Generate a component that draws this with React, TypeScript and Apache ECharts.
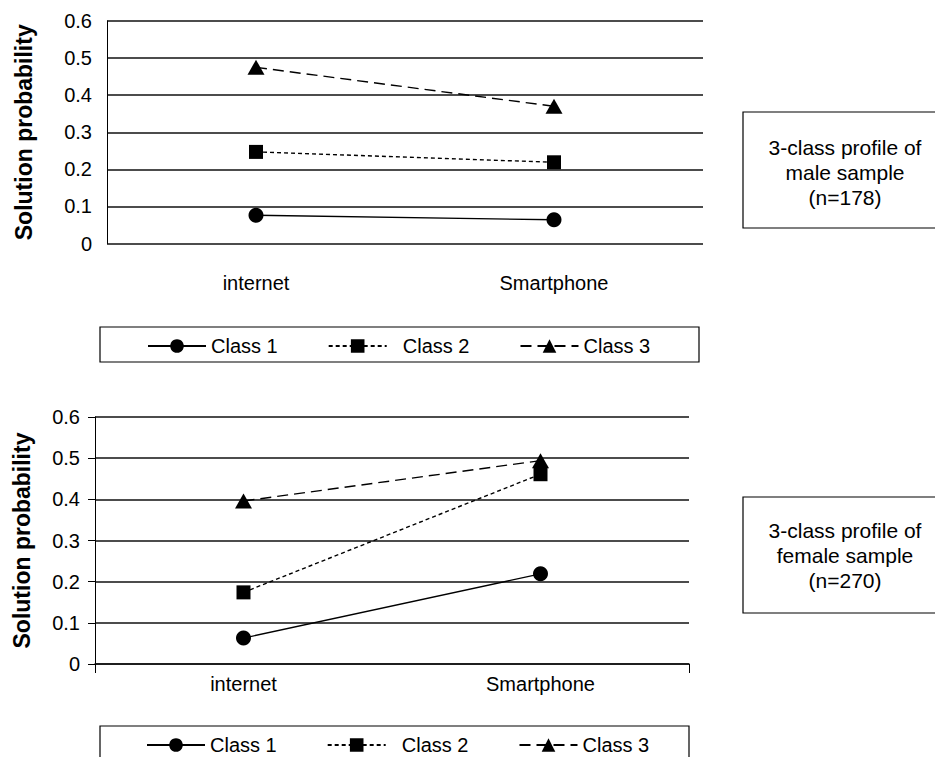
import React, { useEffect, useRef } from "react";
import * as echarts from "echarts";

const categories = ["internet", "Smartphone"];
const seriesNames = ["Class 1", "Class 2", "Class 3"];

// Male sample (n=178)
const maleClass1 = [0.076, 0.064];
const maleClass2 = [0.247, 0.219];
const maleClass3 = [0.475, 0.37];

// Female sample (n=270)
const femaleClass1 = [0.063, 0.219];
const femaleClass2 = [0.174, 0.461];
const femaleClass3 = [0.396, 0.494];

const maleBoxText = "3-class profile of\nmale sample\n(n=178)";
const femaleBoxText = "3-class profile of\nfemale sample\n(n=270)";

const FONT = "'Liberation Sans', Arial, Helvetica, sans-serif";

const styles = [
  { symbol: "circle", symbolSize: 15, dash: "solid" as any },
  { symbol: "rect", symbolSize: 14, dash: [4, 3] as any },
  { symbol: "triangle", symbolSize: [17, 15] as any, dash: [11, 6] as any },
];

function makeSeries(values: number[][], axisIndex: number) {
  return values.map((data, i) => ({
    name: seriesNames[i],
    type: "line",
    xAxisIndex: axisIndex,
    yAxisIndex: axisIndex,
    data,
    symbol: styles[i].symbol,
    symbolSize: styles[i].symbolSize,
    showSymbol: true,
    lineStyle: { color: "#000", width: 1.4, type: styles[i].dash },
    itemStyle: { color: "#000" },
    emphasis: { disabled: true },
    z: 3,
  }));
}

function yAxis(gridIndex: number, withTicks: boolean, nameGap: number) {
  return {
    type: "value",
    gridIndex,
    min: 0,
    max: 0.6,
    interval: 0.1,
    name: "Solution probability",
    nameLocation: "middle",
    nameGap,
    nameTextStyle: {
      fontFamily: FONT,
      fontSize: 23,
      fontWeight: "bold",
      color: "#000",
    },
    axisLine: { show: true, lineStyle: { color: "#000", width: 1 } },
    axisTick: {
      show: withTicks,
      inside: false,
      length: 7,
      lineStyle: { color: "#000", width: 1 },
    },
    axisLabel: {
      margin: 15,
      fontFamily: FONT,
      fontSize: 20,
      color: "#000",
    },
    splitLine: { show: true, lineStyle: { color: "#111", width: 1.5 } },
  };
}

function legend(left: number, top: number) {
  return {
    data: seriesNames,
    left,
    top,
    orient: "horizontal",
    itemWidth: 58,
    itemHeight: 17,
    itemGap: 50,
    padding: 0,
    selectedMode: false,
    formatter: (name: string) => (name === "Class 2" ? "  " + name : name),
    textStyle: { fontFamily: FONT, fontSize: 20, color: "#000" },
  };
}

export default function App() {
  const ref = useRef<HTMLDivElement>(null);

  useEffect(() => {
    if (!ref.current) return;
    const chart = echarts.init(ref.current, undefined, { renderer: "svg" });
    chart.setOption({
      animation: false,
      backgroundColor: "#fff",
      grid: [
        { left: 107, top: 21, width: 596, height: 222.5, containLabel: false },
        { left: 95, top: 417, width: 594, height: 247, containLabel: false },
      ],
      xAxis: [
        {
          type: "category",
          gridIndex: 0,
          data: categories,
          boundaryGap: true,
          axisLine: { show: false },
          axisTick: { show: false },
          axisLabel: { margin: 29, fontFamily: FONT, fontSize: 20, color: "#000" },
        },
        {
          type: "category",
          gridIndex: 1,
          data: categories,
          boundaryGap: true,
          axisLine: { show: true, lineStyle: { color: "#111", width: 1.5 } },
          axisTick: {
            show: true,
            length: 9,
            interval: (index: number) => index === 0,
            lineStyle: { color: "#000", width: 1 },
          },
          axisLabel: { margin: 10, fontFamily: FONT, fontSize: 20, color: "#000" },
        },
      ],
      yAxis: [yAxis(0, false, 72), yAxis(1, true, 62)],
      legend: [legend(147, 336), legend(146, 735)],
      series: [
        ...makeSeries([maleClass1, maleClass2, maleClass3], 0),
        ...makeSeries([femaleClass1, femaleClass2, femaleClass3], 1),
      ],
      graphic: [
        {
          type: "rect",
          shape: { x: 100, y: 327, width: 599, height: 35 },
          style: { fill: "none", stroke: "#000", lineWidth: 1.2 },
          silent: true,
        },
        {
          type: "rect",
          shape: { x: 100, y: 726, width: 589, height: 40 },
          style: { fill: "none", stroke: "#000", lineWidth: 1.2 },
          silent: true,
        },
        {
          type: "rect",
          shape: { x: 743, y: 112, width: 200, height: 116 },
          style: { fill: "none", stroke: "#000", lineWidth: 1.2 },
          silent: true,
        },
        {
          type: "rect",
          shape: { x: 743, y: 497, width: 200, height: 116 },
          style: { fill: "none", stroke: "#000", lineWidth: 1.2 },
          silent: true,
        },
        {
          type: "text",
          x: 845,
          y: 172,
          style: {
            text: maleBoxText,
            align: "center",
            verticalAlign: "middle",
            fontFamily: FONT,
            fontSize: 21,
            lineHeight: 25,
            fill: "#000",
          },
          silent: true,
        },
        {
          type: "text",
          x: 845,
          y: 555,
          style: {
            text: femaleBoxText,
            align: "center",
            verticalAlign: "middle",
            fontFamily: FONT,
            fontSize: 21,
            lineHeight: 25,
            fill: "#000",
          },
          silent: true,
        },
      ],
    });
    return () => chart.dispose();
  }, []);

  return (
    <div
      ref={ref}
      style={{ position: "absolute", left: 0, top: 0, width: 935, height: 757, background: "#fff" }}
    />
  );
}
